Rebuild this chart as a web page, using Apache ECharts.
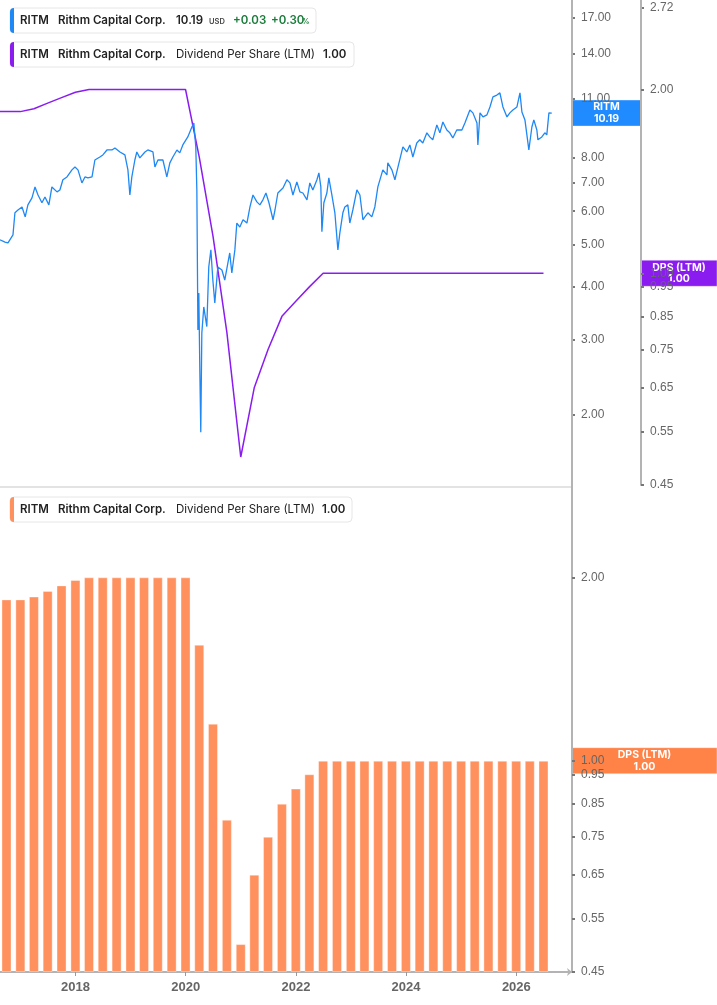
<!DOCTYPE html>
<html>
<head>
<meta charset="utf-8">
<title>RITM price and dividend per share</title>
<script src="https://cdn.jsdelivr.net/npm/echarts@6/dist/echarts.min.js"></script>
<style>
  html, body { margin: 0; padding: 0; background: #fff; }
  #chart { width: 717px; height: 1005px; }
</style>
</head>
<body>
<div id="chart"></div>
<script>
// price (USD)
var priceDates = [
  '2016-08-18','2016-09-20','2016-10-10','2016-11-12','2016-11-25','2016-12-15','2017-01-11','2017-02-01',
  '2017-02-19','2017-03-18','2017-04-07','2017-04-27','2017-05-23','2017-06-12','2017-07-08','2017-07-28',
  '2017-08-31','2017-09-19','2017-10-09','2017-11-05','2017-12-08','2017-12-28','2018-01-17','2018-02-12',
  '2018-03-04','2018-03-24','2018-04-20','2018-05-09','2018-06-11','2018-07-01','2018-07-28','2018-08-30',
  '2018-09-19','2018-10-22','2018-11-24','2018-12-14','2018-12-27','2019-01-09','2019-01-29','2019-02-11',
  '2019-03-03','2019-04-06','2019-04-25','2019-05-29','2019-06-11','2019-07-01','2019-08-03','2019-08-29',
  '2019-09-18','2019-10-08','2019-11-04','2019-11-23','2019-12-13','2020-01-15','2020-02-11','2020-02-24',
  '2020-03-08','2020-03-15','2020-03-22','2020-03-28','2020-04-04','2020-04-10','2020-04-17','2020-04-30',
  '2020-05-20','2020-06-02','2020-06-16','2020-06-29','2020-07-12','2020-08-01','2020-08-28','2020-09-16',
  '2020-10-19','2020-11-02','2020-11-22','2020-12-05','2020-12-25','2021-01-15','2021-02-10','2021-03-02',
  '2021-03-22','2021-04-17','2021-05-07','2021-05-27','2021-06-16','2021-07-06','2021-08-02','2021-08-15',
  '2021-09-03','2021-10-07','2021-11-02','2021-11-22','2021-12-12','2022-01-07','2022-01-27','2022-02-16',
  '2022-03-15','2022-04-03','2022-04-23','2022-05-20','2022-06-02','2022-06-15','2022-06-22','2022-07-05',
  '2022-07-25','2022-08-07','2022-08-27','2022-09-16','2022-10-06','2022-10-19','2022-11-08','2022-11-21',
  '2022-12-11','2022-12-24','2023-01-13','2023-02-09','2023-03-01','2023-03-21','2023-04-03','2023-04-23',
  '2023-05-19','2023-06-08','2023-06-28','2023-07-31','2023-08-27','2023-09-02','2023-09-29','2023-10-19',
  '2023-11-07','2023-12-11','2024-01-06','2024-01-26','2024-02-15','2024-03-12','2024-04-01','2024-04-21',
  '2024-05-18','2024-06-06','2024-06-26','2024-07-23','2024-08-12','2024-09-01','2024-09-27','2024-10-17',
  '2024-11-06','2024-12-02','2025-01-05','2025-01-25','2025-02-27','2025-03-19','2025-04-15','2025-04-21',
  '2025-05-05','2025-05-25','2025-06-20','2025-07-10','2025-07-30','2025-08-25','2025-09-14','2025-10-04',
  '2025-10-31','2025-11-19','2025-12-09','2026-01-05','2026-01-25','2026-02-07','2026-02-27','2026-03-12',
  '2026-03-25','2026-04-14','2026-04-27','2026-05-17','2026-05-24','2026-06-19','2026-07-09','2026-07-22',
  '2026-08-05','2026-08-24'
];
var priceValues = [
  5.14, 5.08, 5.06, 5.28, 5.95, 6.04, 6.14, 5.82,
  6.21, 6.45, 6.84, 6.55, 6.28, 6.48, 6.21, 6.84,
  6.66, 6.73, 7.11, 7.22, 7.50, 7.62, 7.50, 6.99,
  7.22, 7.18, 7.22, 7.91, 8.04, 8.13, 8.35, 8.35,
  8.44, 8.26, 8.13, 7.50, 6.55, 7.22, 7.91, 8.26,
  8.00, 8.26, 8.35, 8.26, 7.62, 7.91, 7.91, 7.22,
  7.79, 8.04, 8.35, 8.22, 8.58, 8.96, 9.45, 9.66,
  8.49, 6.73, 3.16, 3.86, 2.51, 1.82, 3.11, 3.58,
  3.22, 4.44, 4.87, 4.14, 3.66, 4.44, 4.37, 4.14,
  4.79, 4.30, 4.87, 5.63, 5.51, 5.73, 5.63, 6.14,
  6.55, 6.31, 6.21, 6.38, 6.62, 6.28, 5.73, 6.04,
  6.62, 6.80, 7.11, 6.99, 6.55, 7.03, 6.66, 6.62,
  6.38, 6.99, 6.73, 7.11, 7.38, 6.84, 5.37, 6.28,
  6.62, 7.18, 6.55, 5.95, 4.87, 5.34, 5.95, 6.14,
  6.21, 5.63, 6.04, 6.73, 6.55, 5.73, 5.82, 5.95,
  5.82, 6.14, 6.84, 7.50, 7.30, 7.79, 7.50, 7.11,
  7.58, 8.49, 8.26, 8.58, 8.04, 8.67, 8.82, 8.67,
  9.16, 8.96, 8.82, 9.56, 9.16, 9.71, 9.30, 9.16,
  8.91, 9.30, 9.30, 9.66, 10.36, 10.20, 9.66, 8.58,
  10.20, 9.98, 10.09, 10.53, 11.12, 11.23, 11.36, 10.53,
  9.98, 10.20, 10.36, 10.53, 11.36, 10.25, 9.82, 9.06,
  8.35, 9.45, 9.82, 9.30, 8.82, 8.96, 9.16, 9.06,
  10.20, 10.19
];

// dividend per share, trailing twelve months, by quarter end
var dpsDates = [
  '2016-06-30','2016-09-30','2016-12-31','2017-03-31','2017-06-30','2017-09-30','2017-12-31',
  '2018-03-31','2018-06-30','2018-09-30','2018-12-31','2019-03-31','2019-06-30','2019-09-30','2019-12-31',
  '2020-03-31','2020-06-30','2020-09-30','2020-12-31','2021-03-31','2021-06-30','2021-09-30','2021-12-31',
  '2022-03-31','2022-06-30','2022-09-30','2022-12-31','2023-03-31','2023-06-30','2023-09-30','2023-12-31',
  '2024-03-31','2024-06-30','2024-09-30','2024-12-31','2025-03-31','2025-06-30','2025-09-30','2025-12-31',
  '2026-03-31','2026-06-30'
];
var dpsValues = [
  1.84, 1.84, 1.84, 1.86, 1.90, 1.94, 1.98,
  2.00, 2.00, 2.00, 2.00, 2.00, 2.00, 2.00, 2.00,
  1.55, 1.15, 0.80, 0.50, 0.65, 0.75, 0.85, 0.90,
  0.95, 1.00, 1.00, 1.00, 1.00, 1.00, 1.00, 1.00,
  1.00, 1.00, 1.00, 1.00, 1.00, 1.00, 1.00, 1.00,
  1.00, 1.00
];

var priceTicks = [2, 3, 4, 5, 6, 7, 8, 11, 14, 17];
var dpsTopTicks = [0.45, 0.55, 0.65, 0.75, 0.85, 0.95, 1.00, 2.00, 2.72];
var dpsBottomTicks = [0.45, 0.55, 0.65, 0.75, 0.85, 0.95, 1.00, 2.00];
var yearTicks = ['2018-01-01', '2020-01-01', '2022-01-01', '2024-01-01', '2026-01-01'];
var dateRange = ['2016-08-18', '2027-01-05'];

var lastPrice = 10.19;
var lastDps = 1.00;

(function() {
  'use strict';

  var BLUE = '#1E88F5';
  var PURPLE = '#8A1CF0';
  var ORANGE = '#FF915E';
  var AXIS = '#b3b3b3';
  var LABEL = '#666';
  var TXT = '#222';
  var GREEN = '#1a7c3a';
  var FONT = 'Inter, "Noto Sans", sans-serif';
  var AXIS_FONT = '"Liberation Sans", Arial, sans-serif';

  function ts(d) {
    return Date.parse(d + 'T00:00:00Z');
  }

  function pairs(dates, values) {
    return dates.map(function(d, i) { return [ts(d), values[i]]; });
  }

  function fmt2(v) {
    return Number(v).toFixed(2);
  }

  function logAxis(gridIndex, min, max, ticks, offset) {
    return {
      type: 'log',
      logBase: 10,
      gridIndex: gridIndex,
      position: 'right',
      offset: offset || 0,
      min: min,
      max: max,
      axisLine: { show: true, lineStyle: { color: AXIS, width: 2 } },
      axisTick: {
        show: true,
        customValues: ticks,
        length: 3,
        lineStyle: { color: '#777', width: 2 }
      },
      axisLabel: {
        customValues: ticks,
        formatter: fmt2,
        margin: 9,
        color: LABEL,
        fontSize: 12,
        fontFamily: AXIS_FONT
      },
      splitLine: { show: false }
    };
  }

  function dateAxis(gridIndex, withLabels) {
    var years = yearTicks.map(ts);
    return {
      type: 'value',
      gridIndex: gridIndex,
      min: ts(dateRange[0]),
      max: ts(dateRange[1]),
      offset: withLabels ? 0 : 2,
      axisLine: {
        show: true,
        onZero: false,
        symbol: withLabels ? ['none', 'arrow'] : 'none',
        symbolSize: [6, 5],
        lineStyle: { color: withLabels ? AXIS : '#e3e3e3', width: 2 }
      },
      axisTick: {
        show: withLabels,
        customValues: years,
        length: 4,
        lineStyle: { color: '#999' }
      },
      axisLabel: {
        show: withLabels,
        customValues: years,
        formatter: function(v) { return String(new Date(v).getUTCFullYear()); },
        color: LABEL,
        fontWeight: 'bold',
        fontSize: 13,
        margin: 9,
        fontFamily: AXIS_FONT
      },
      splitLine: { show: false }
    };
  }

  var chart = echarts.init(document.getElementById('chart'), null, { renderer: 'canvas' });

  var dpsBottomAxis = logAxis(1, 0.4499, 2.7201, dpsBottomTicks);
  dpsBottomAxis.startValue = 0.4499;

  chart.setOption({
    animation: false,
    backgroundColor: '#fff',
    grid: [
      { left: 0, right: 145, top: 8, height: 477, outerBoundsMode: 'none' },
      { left: 0, right: 145, top: 496, height: 476, outerBoundsMode: 'none' }
    ],
    xAxis: [dateAxis(0, false), dateAxis(1, true)],
    yAxis: [
      logAxis(0, 1.37, 17.96, priceTicks),
      logAxis(0, 0.4499, 2.7201, dpsTopTicks, 69),
      dpsBottomAxis
    ],
    series: [
      {
        name: 'DPS (LTM)',
        type: 'line',
        xAxisIndex: 0,
        yAxisIndex: 1,
        data: pairs(dpsDates, dpsValues),
        showSymbol: false,
        lineStyle: { color: PURPLE, width: 1.5 },
        z: 2
      },
      {
        name: 'RITM',
        type: 'line',
        xAxisIndex: 0,
        yAxisIndex: 0,
        data: pairs(priceDates, priceValues),
        showSymbol: false,
        lineStyle: { color: BLUE, width: 1.3 },
        z: 3
      },
      {
        name: 'DPS bars',
        type: 'bar',
        xAxisIndex: 1,
        yAxisIndex: 2,
        data: pairs(dpsDates, dpsValues),
        barWidth: 10,
        itemStyle: { color: ORANGE, borderColor: 'rgba(255,255,255,0.35)', borderWidth: 1 }
      }
    ]
  });

  function textEl(x, y, text, opts) {
    opts = opts || {};
    return {
      type: 'text',
      x: x,
      y: y,
      style: {
        text: text,
        fill: opts.color || TXT,
        fontSize: opts.size || 11.5,
        fontWeight: opts.weight || 600,
        fontFamily: FONT,
        align: opts.align || 'left',
        verticalAlign: 'middle',
        lineHeight: opts.lineHeight || 13
      }
    };
  }

  function legendBox(top, width, color, items) {
    var children = [
      {
        type: 'rect',
        shape: { x: 10, y: top, width: width, height: 25, r: 4 },
        style: { fill: '#fff', stroke: '#e6e6e6', lineWidth: 1 }
      },
      {
        type: 'rect',
        shape: { x: 10, y: top, width: 4, height: 25, r: [4, 0, 0, 4] },
        style: { fill: color }
      }
    ];
    items.forEach(function(it) {
      children.push(textEl(it[0], top + 12.5 + (it[3] || 0), it[1], it[2]));
    });
    return { type: 'group', z: 100, children: children };
  }

  function marker(x, w, yc, color, label) {
    return {
      type: 'group',
      z: 110,
      children: [
        {
          type: 'rect',
          shape: { x: x, y: yc - 13, width: w, height: 26 },
          style: { fill: color, stroke: 'rgba(255,255,255,0.35)', lineWidth: 1 }
        },
        textEl(x + w / 2, yc, label, { color: '#fff', size: 10.5, weight: 'bold', align: 'center', lineHeight: 11.5 })
      ]
    };
  }

  function vline(x, y1, y2) {
    return {
      type: 'line',
      z: 5,
      shape: { x1: x, y1: y1, x2: x, y2: y2 },
      style: { stroke: AXIS, lineWidth: 2 }
    };
  }

  var yPrice = chart.convertToPixel({ yAxisIndex: 0 }, lastPrice);
  var yDpsTop = chart.convertToPixel({ yAxisIndex: 1 }, lastDps);
  var yDpsBottom = chart.convertToPixel({ yAxisIndex: 2 }, lastDps);

  chart.setOption({
    graphic: [
      // axis lines run on past the grid edges in the reference
      vline(572, 0, 497),
      vline(641, 0, 9),
      legendBox(8, 306, BLUE, [
        [20, 'RITM'],
        [58, 'Rithm Capital Corp.'],
        [176, '10.19'],
        [209, 'USD', { size: 7.5, color: '#444' }, 1],
        [233, '+0.03', { color: GREEN }],
        [271, '+0.30', { color: GREEN }],
        [302, '%', { size: 7.5, color: GREEN }, 1]
      ]),
      legendBox(42, 344, PURPLE, [
        [20, 'RITM'],
        [58, 'Rithm Capital Corp.'],
        [176, 'Dividend Per Share (LTM)', { weight: 'normal' }],
        [323, '1.00']
      ]),
      legendBox(497, 342, ORANGE, [
        [20, 'RITM'],
        [58, 'Rithm Capital Corp.'],
        [176, 'Dividend Per Share (LTM)', { weight: 'normal' }],
        [322, '1.00']
      ]),
      marker(572, 69, yPrice, '#1f8bff', 'RITM\n' + fmt2(lastPrice)),
      marker(641, 76, yDpsTop, PURPLE, 'DPS (LTM)\n' + fmt2(lastDps)),
      marker(572, 145, yDpsBottom, '#FF8247', 'DPS (LTM)\n' + fmt2(lastDps))
    ]
  });

  window.addEventListener('resize', function() {
    chart && chart.resize();
  });
})();
</script>
</body>
</html>
